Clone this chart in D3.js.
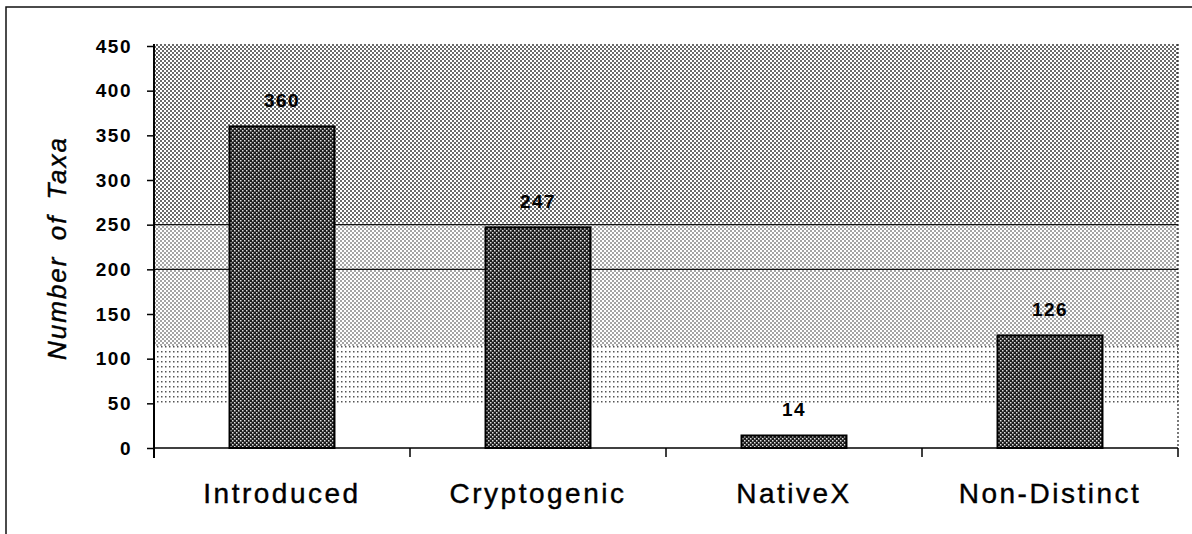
<!DOCTYPE html>
<html>
<head>
<meta charset="utf-8">
<script src="https://cdn.jsdelivr.net/npm/d3@7"></script>
<style>
  body { margin: 0; background: #fff; }
  svg { display: block; }
</style>
</head>
<body>
<div id="chart"></div>
<script>
// data
const categories = ['Introduced', 'Cryptogenic', 'NativeX', 'Non-Distinct'];
const taxaCounts = [360, 247, 14, 126];
const yTicks = [0, 50, 100, 150, 200, 250, 300, 350, 400, 450];
const gridValues = [200, 250];

const width = 1192,
    height = 534,
    margin = {top: 46, right: 14, bottom: 86, left: 154};

const svg = d3.select('#chart').append('svg')
    .attr('width', width)
    .attr('height', height);

// halftone-ish fills, the original is a scanned gradient
const defs = svg.append('defs');

function dotPattern(id, w, h, bg, dots) {
    const p = defs.append('pattern')
        .attr('id', id)
        .attr('patternUnits', 'userSpaceOnUse')
        .attr('width', w)
        .attr('height', h);
    p.append('rect').attr('width', w).attr('height', h).attr('fill', bg);
    dots.forEach(d => {
        p.append('rect')
            .attr('x', d[0]).attr('y', d[1])
            .attr('width', d[2]).attr('height', d[2])
            .attr('fill', d[3]);
    });
}
dotPattern('bg-top', 4, 4, '#fff', [[0, 0, 2, '#6a6a6a'], [2, 2, 2, '#6a6a6a']]);
dotPattern('bg-mid', 4, 4, '#fff', [[0, 0, 2, '#a4a4a4'], [2, 2, 2, '#a4a4a4']]);
dotPattern('bg-low', 4, 5, '#fff', [[1, 1, 1.5, '#555']]);
dotPattern('bar-fill', 4, 4, '#1c1c1c', [[0, 0, 1.5, '#e0e0e0'], [2, 2, 1.5, '#e0e0e0']]);

const x = d3.scaleBand()
    .domain(categories)
    .range([margin.left, width - margin.right])
    .paddingInner(0.59)
    .paddingOuter(0.295);

const y = d3.scaleLinear()
    .domain([0, 450])
    .range([height - margin.bottom, margin.top]);

const plotL = margin.left, plotR = width - margin.right;

// background bands of the gradient
const bands = [
    {from: 250, to: 450, fill: 'url(#bg-top)'},
    {from: 112, to: 250, fill: 'url(#bg-mid)'},
    {from: 45, to: 112, fill: 'url(#bg-low)'}
];
svg.append('g').selectAll('rect')
    .data(bands).enter()
    .append('rect')
    .attr('x', plotL)
    .attr('width', plotR - plotL)
    .attr('y', d => y(d.to) - 2)
    .attr('height', (d, i) => y(d.from) - y(d.to) + (i === 0 ? 2 : 0))
    .attr('fill', d => d.fill);

// dotted right edge of the plot area
svg.append('line')
    .attr('x1', plotR).attr('x2', plotR)
    .attr('y1', y(450) - 2).attr('y2', y(0))
    .attr('stroke', '#222')
    .attr('stroke-width', 1.2)
    .attr('stroke-dasharray', '2,2');

// gridlines
svg.append('g').selectAll('line')
    .data(gridValues).enter()
    .append('line')
    .attr('x1', plotL).attr('x2', plotR)
    .attr('y1', d => y(d)).attr('y2', d => y(d))
    .attr('stroke', '#111')
    .attr('stroke-width', 1.4);

// bars
svg.append('g').selectAll('rect')
    .data(taxaCounts).enter()
    .append('rect')
    .attr('x', (d, i) => x(categories[i]))
    .attr('width', x.bandwidth())
    .attr('y', d => y(d))
    .attr('height', d => y(0) - y(d))
    .attr('fill', 'url(#bar-fill)')
    .attr('stroke', '#000')
    .attr('stroke-width', 2);

// value labels
svg.append('g').selectAll('text')
    .data(taxaCounts).enter()
    .append('text')
    .attr('x', (d, i) => x(categories[i]) + x.bandwidth() / 2)
    .attr('y', d => y(d) - 19)
    .attr('text-anchor', 'middle')
    .style('font-family', 'Arial, "Liberation Sans", sans-serif')
    .style('font-size', '19px')
    .style('font-weight', 'bold')
    .style('letter-spacing', '1.5px')
    .text(d => d);

// y axis
const yAxis = svg.append('g')
    .attr('transform', 'translate(' + plotL + ',0)')
    .call(d3.axisLeft(y).tickValues(yTicks).tickSize(7).tickPadding(15));
yAxis.select('.domain')
    .attr('d', 'M0,' + (y(450) - 2) + 'V' + (y(0) + 10))
    .attr('stroke-width', 2);
yAxis.selectAll('.tick line').attr('stroke-width', 1.5);
yAxis.selectAll('.tick text')
    .style('font-family', 'Arial, "Liberation Sans", sans-serif')
    .style('font-size', '19px')
    .style('font-weight', 'bold')
    .style('letter-spacing', '1.5px')
    .attr('fill', '#000');

// x axis: baseline plus ticks at category boundaries
svg.append('line')
    .attr('x1', plotL).attr('x2', plotR)
    .attr('y1', y(0)).attr('y2', y(0))
    .attr('stroke', '#000')
    .attr('stroke-width', 1.5);

const step = x.step();
const boundaries = d3.range(categories.length + 1)
    .map(i => plotL + i * step);
svg.append('g').selectAll('line')
    .data(boundaries).enter()
    .append('line')
    .attr('x1', d => d).attr('x2', d => d)
    .attr('y1', y(0)).attr('y2', y(0) + 9)
    .attr('stroke', '#000')
    .attr('stroke-width', 1.5);

svg.append('g').selectAll('text')
    .data(categories).enter()
    .append('text')
    .attr('x', d => x(d) + x.bandwidth() / 2)
    .attr('y', 503)
    .attr('text-anchor', 'middle')
    .style('font-family', 'Arial, "Liberation Sans", sans-serif')
    .style('font-size', '28px')
    .style('letter-spacing', '2.5px')
    .attr('stroke', '#000')
    .attr('stroke-width', 0.4)
    .text(d => d);

// y title
svg.append('text')
    .attr('transform', 'translate(66,248) rotate(-90)')
    .attr('text-anchor', 'middle')
    .style('font-family', 'Arial, "Liberation Sans", sans-serif')
    .style('font-size', '26px')
    .style('font-style', 'italic')
    .style('letter-spacing', '2px')
    .style('word-spacing', '6px')
    .attr('stroke', '#000')
    .attr('stroke-width', 0.4)
    .text('Number of Taxa');

// page frame lines from the scan
svg.append('path')
    .attr('d', 'M6,534V7H1192')
    .attr('fill', 'none')
    .attr('stroke', '#111')
    .attr('stroke-width', 1.5);
</script>
</body>
</html>
